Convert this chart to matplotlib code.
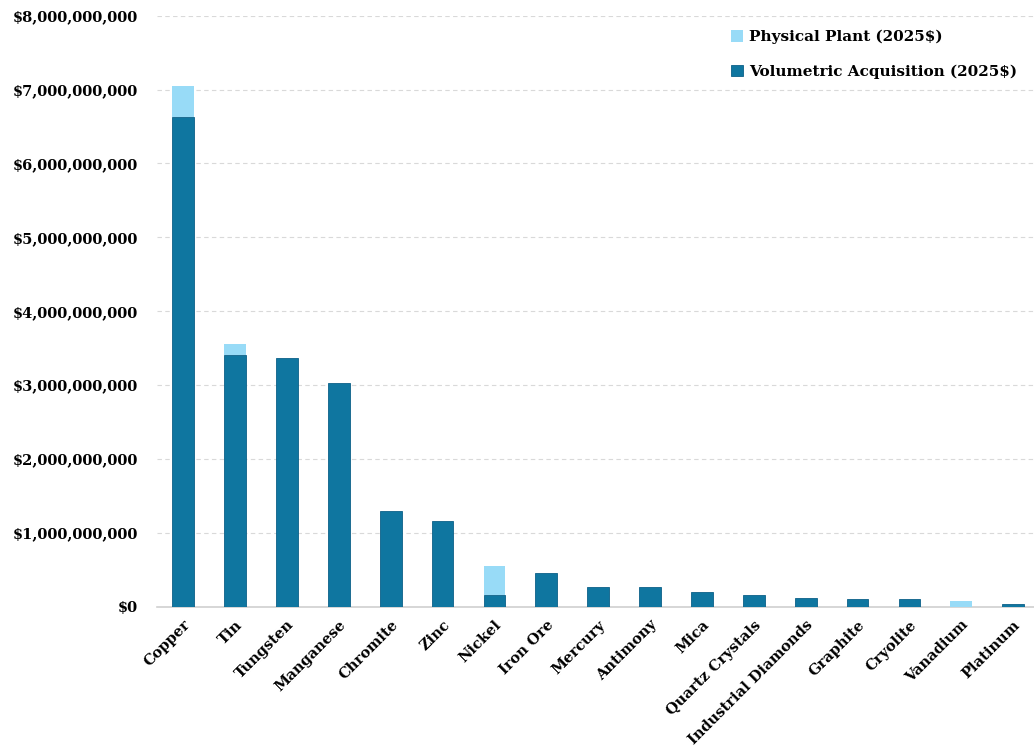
import numpy as np
import matplotlib
matplotlib.use("Agg")
import matplotlib.pyplot as plt
from matplotlib.ticker import FuncFormatter

plt.rcParams["font.family"] = ["DejaVu Serif"]
plt.rcParams["font.weight"] = "bold"

minerals = ["Copper", "Tin", "Tungsten", "Manganese", "Chromite", "Zinc",
            "Nickel", "Iron Ore", "Mercury", "Antimony", "Mica",
            "Quartz Crystals", "Industrial Diamonds", "Graphite", "Cryolite",
            "Vanadium", "Platinum"]
# values in dollars (2025$)
volumetric = [6.63e9, 3.41e9, 3.36e9, 3.03e9, 1.30e9, 1.16e9, 0.16e9, 0.45e9,
              0.26e9, 0.26e9, 0.20e9, 0.155e9, 0.115e9, 0.11e9, 0.11e9, 0.0,
              0.035e9]
physical = [0.42e9, 0.14e9, 0.0, 0.0, 0.0, 0.0, 0.395e9, 0.0, 0.0, 0.0, 0.0,
            0.0, 0.0, 0.0, 0.0, 0.08e9, 0.0]

DARK = "#0f76a0"
LIGHT = "#98dbf7"

fig = plt.figure(figsize=(10.34, 7.49), dpi=100)
ax = fig.add_axes([0.152, 0.190, 0.848, 0.789])

x = np.arange(len(minerals))
w = 0.42
ax.bar(x, volumetric, w, color=DARK, edgecolor="#0b6088", linewidth=0.6,
       label="Volumetric Acquisition (2025$)", zorder=3)
ax.bar(x, physical, w, bottom=volumetric, color=LIGHT, linewidth=0,
       label="Physical Plant (2025$)", zorder=3)

ax.set_xlim(-0.5, 16.4)
ax.set_ylim(0, 8e9)
ax.set_yticks(np.arange(0, 8.01e9, 1e9))
ax.yaxis.set_major_formatter(FuncFormatter(lambda v, p: "${:,.0f}".format(v)))
ax.set_xticks(x)
ax.set_xticklabels(minerals, rotation=45, ha="right", rotation_mode="anchor")
ax.tick_params(axis="both", length=0, labelsize=10.5)
ax.tick_params(axis="y", pad=14)
ax.tick_params(axis="x", pad=8)

ax.grid(axis="y", color="#d9d9d9", linestyle=(0, (4, 3)), linewidth=0.8, zorder=0)
for s in ["top", "right", "left"]:
    ax.spines[s].set_visible(False)
ax.spines["bottom"].set_color("#d0d0d0")
ax.spines["bottom"].set_linewidth(1.2)

handles, labels = ax.get_legend_handles_labels()
ax.legend(handles[::-1], labels[::-1], loc="upper right", frameon=False,
          fontsize=11, handlelength=0.8, handleheight=0.8, handletextpad=0.4,
          labelspacing=1.3, bbox_to_anchor=(0.997, 0.999))

fig.savefig("out.png", dpi=100)
